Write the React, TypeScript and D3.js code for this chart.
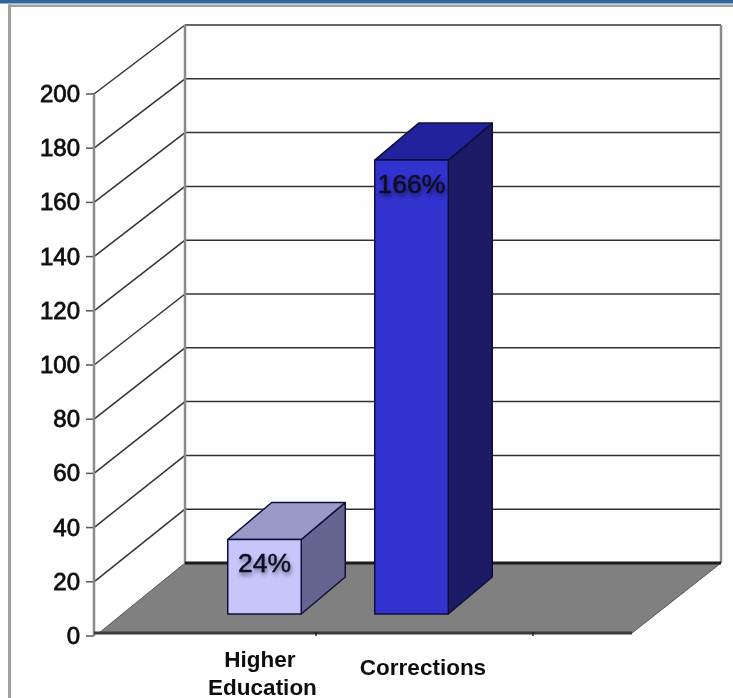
import React from "react";
import * as d3 from "d3";

const categories = ["Higher Education", "Corrections"];
const categoryLines = [["Higher", "Education"], ["Corrections"]];
const barHeights = [27.5, 167.5];
const barLabels = ["24%", "166%"];
const yTicks = [0, 20, 40, 60, 80, 100, 120, 140, 160, 180, 200];
const floorTicks = [1, 2];
const faceColors = [
  { front: "#c6c6fb", top: "#9a9ac8", side: "#65658f" },
  { front: "#3232cf", top: "#24249c", side: "#1a1a66" },
];

const W = 733, H = 698;
const yFront = d3.scaleLinear().domain([0, 200]).range([636, 94]);
const yBack = d3.scaleLinear().domain([0, 200]).range([563, 25]);
const xBand = d3.scaleBand<string>().domain([...categories, ""]).range([191, 632]).paddingInner(0.5).paddingOuter(0.25);
const xTick = d3.scaleLinear().domain([0, 1]).range([99, 316]);
const frontX = 94;
const backX = 185;
const rightX = 721;
const floorFrontRight = 632;
const bar = { dx: 44, dy: -37, baseY: 614 };
const poly = (p: number[][]) => p.map((q) => q.join(",")).join(" ");

export default function App() {
  const y0 = yFront(0);
  const floorY = y0 - 3;
  return (
    <svg width={W} height={H} viewBox={`0 0 ${W} ${H}`} style={{ position: "absolute", left: 0, top: 0, background: "#fefefe" }} fontFamily="'Liberation Sans', Arial, sans-serif">
      <defs>
        <filter id="soft" x="-5%" y="-5%" width="110%" height="110%"><feGaussianBlur stdDeviation="0.55" /></filter>
        <filter id="softT" x="-10%" y="-20%" width="120%" height="140%"><feGaussianBlur stdDeviation="0.5" /></filter>
        <filter id="shadow" x="-20%" y="-40%" width="140%" height="180%"><feGaussianBlur stdDeviation="2.2" /></filter>
        <clipPath id="head"><rect x="0" y="0" width={W} height="4" /></clipPath>
      </defs>
      <rect x="0" y="0" width={W} height="3.5" fill="#33669c" />
      <g clipPath="url(#head)">
        <text x="456" y="-8" textAnchor="middle" fontFamily="'Liberation Serif', serif" fontWeight="700" fontSize="36" fill="#fff">Spending</text>
      </g>
      <rect x="8" y="4.5" width={W - 8} height="2.5" fill="#a0a09c" />
      <rect x="8" y="4.5" width="3" height={H - 4.5} fill="#a0a09c" />

      <g filter="url(#soft)">
        {yTicks.map((t) => (
          <g key={t} fill="none" stroke="#333" strokeWidth="1.5">
            <line x1={frontX - 8} x2={frontX} y1={yFront(t)} y2={yFront(t)} stroke="#555" />
            {t > 0 && <line x1={frontX} y1={yFront(t)} x2={backX} y2={yBack(t)} />}
            {t > 0 && <line x1={backX} x2={rightX} y1={yBack(t)} y2={yBack(t)} />}
          </g>
        ))}
        <line x1={frontX} x2={frontX} y1={yFront(200)} y2={y0} stroke="#8a8a8a" strokeWidth="2.5" />
        <line x1={backX} x2={backX} y1={yBack(200)} y2={yBack(0)} stroke="#8a8a8a" strokeWidth="2.5" />
        <line x1={rightX} x2={rightX} y1={yBack(200)} y2={yBack(0)} stroke="#8a8a8a" strokeWidth="2.5" />

        <polygon points={poly([[frontX + 5, floorY], [backX, yBack(0)], [rightX, yBack(0)], [floorFrontRight, floorY]])} fill="#808080" stroke="#555" strokeWidth="1" />
        <line x1={backX} x2={rightX} y1={yBack(0)} y2={yBack(0)} stroke="#1c1c1c" strokeWidth="3" />
        <line x1={frontX} x2={floorFrontRight} y1={floorY} y2={floorY} stroke="#3a3a3a" strokeWidth="3" />
        {floorTicks.map((i) => (
          <line key={i} x1={xTick(i)} x2={xTick(i)} y1={floorY - 1} y2={floorY + 3} stroke="#222" strokeWidth="1.5" />
        ))}

        {categories.map((c, i) => {
          const x = xBand(c)!;
          const w = xBand.bandwidth();
          const base = bar.baseY;
          const top = base - (y0 - yFront(barHeights[i]));
          const col = faceColors[i];
          return (
            <g key={c} stroke="#10103a" strokeWidth="1.5" strokeLinejoin="round">
              <polygon points={poly([[x + w, top], [x + w + bar.dx, top + bar.dy], [x + w + bar.dx, base + bar.dy], [x + w, base]])} fill={col.side} />
              <polygon points={poly([[x, top], [x + bar.dx, top + bar.dy], [x + w + bar.dx, top + bar.dy], [x + w, top]])} fill={col.top} />
              <rect x={x} y={top} width={w} height={base - top} fill={col.front} />
            </g>
          );
        })}
      </g>

      {categories.map((c, i) => {
        const x = xBand(c)! + xBand.bandwidth() / 2;
        const top = bar.baseY - (y0 - yFront(barHeights[i]));
        const ly = top + 32.5;
        return (
          <g key={c} textAnchor="middle" fontSize="26.5">
            <text x={x + 1} y={ly + 3} fill="#000" opacity="0.6" filter="url(#shadow)">{barLabels[i]}</text>
            <text x={x} y={ly} fill="#0c0c22" stroke="#0c0c22" strokeWidth="0.5" filter="url(#softT)">{barLabels[i]}</text>
          </g>
        );
      })}

      <g filter="url(#softT)" fill="#111">
        {yTicks.map((t) => (
          <text key={t} x={80} y={yFront(t) + 8} textAnchor="end" fontSize="24" stroke="#111" strokeWidth="0.8">{t}</text>
        ))}
        <g fontSize="22.5" fontWeight="700" textAnchor="middle">
          <text x={260} y={667}>{categoryLines[0][0]}</text>
          <text x={262.5} y={695}>{categoryLines[0][1]}</text>
          <text x={423} y={675}>{categoryLines[1][0]}</text>
        </g>
      </g>
    </svg>
  );
}
